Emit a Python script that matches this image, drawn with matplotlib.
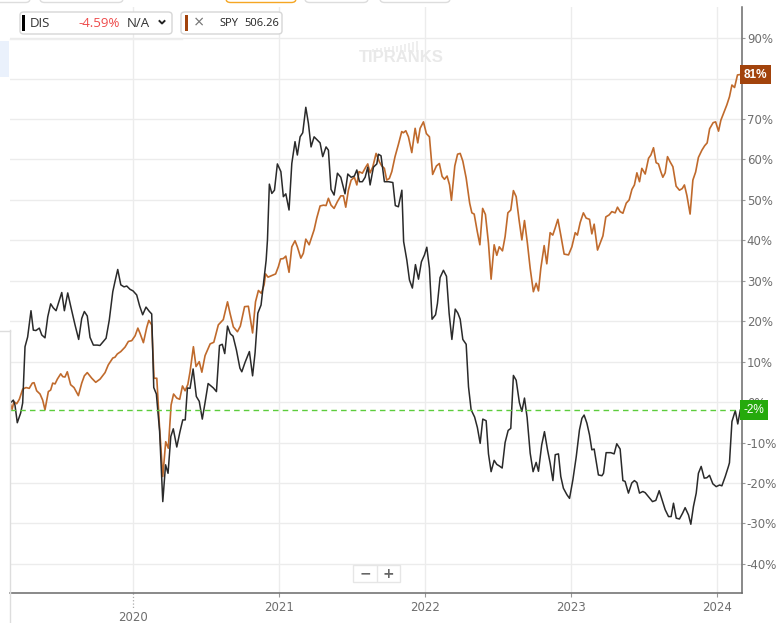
import matplotlib
matplotlib.use('Agg')
import matplotlib.pyplot as plt
from matplotlib.patches import FancyBboxPatch, Rectangle
from matplotlib.lines import Line2D

# ---------------- data (time in fractional years, values in % return) ----------------
dis_t = [2019.158, 2019.176, 2019.187, 2019.203, 2019.226, 2019.240, 2019.256, 2019.274, 2019.297, 2019.313,
         2019.331, 2019.354, 2019.371, 2019.393, 2019.412, 2019.432, 2019.450, 2019.469, 2019.508, 2019.526,
         2019.549, 2019.572, 2019.599, 2019.624, 2019.645, 2019.663, 2019.683, 2019.702, 2019.725, 2019.752,
         2019.770, 2019.793, 2019.812, 2019.834, 2019.858, 2019.873, 2019.892, 2019.913, 2019.935, 2019.954,
         2019.976, 2019.997, 2020.022, 2020.042, 2020.063, 2020.086, 2020.107, 2020.125, 2020.139, 2020.157,
         2020.179, 2020.201, 2020.220, 2020.237, 2020.256, 2020.273, 2020.297, 2020.319, 2020.338, 2020.355,
         2020.370, 2020.388, 2020.409, 2020.431, 2020.451, 2020.472, 2020.491, 2020.512, 2020.548, 2020.569,
         2020.590, 2020.609, 2020.626, 2020.645, 2020.664, 2020.683, 2020.706, 2020.730, 2020.743, 2020.765,
         2020.795, 2020.817, 2020.834, 2020.853, 2020.875, 2020.891, 2020.910, 2020.919, 2020.932, 2020.949,
         2020.967, 2020.987, 2021.011, 2021.028, 2021.045, 2021.067, 2021.086, 2021.108, 2021.124, 2021.143,
         2021.161, 2021.182, 2021.200, 2021.218, 2021.239, 2021.261, 2021.280, 2021.298, 2021.321, 2021.337,
         2021.355, 2021.376, 2021.399, 2021.422, 2021.451, 2021.470, 2021.493, 2021.515, 2021.532, 2021.550,
         2021.570, 2021.589, 2021.607, 2021.623, 2021.646, 2021.669, 2021.680, 2021.698, 2021.721, 2021.749,
         2021.779, 2021.796, 2021.817, 2021.841, 2021.853, 2021.875, 2021.893, 2021.913, 2021.934, 2021.955,
         2021.975, 2021.996, 2022.012, 2022.030, 2022.048, 2022.072, 2022.085, 2022.103, 2022.126, 2022.147,
         2022.165, 2022.184, 2022.207, 2022.225, 2022.241, 2022.259, 2022.282, 2022.298, 2022.316, 2022.340,
         2022.359, 2022.378, 2022.396, 2022.419, 2022.435, 2022.453, 2022.474, 2022.492, 2022.510, 2022.529,
         2022.549, 2022.570, 2022.588, 2022.606, 2022.625, 2022.647, 2022.664, 2022.682, 2022.700, 2022.721,
         2022.741, 2022.762, 2022.778, 2022.800, 2022.819, 2022.840, 2022.858, 2022.877, 2022.893, 2022.915,
         2022.931, 2022.949, 2022.973, 2022.991, 2023.014, 2023.037, 2023.059, 2023.076, 2023.091, 2023.110,
         2023.128, 2023.144, 2023.160, 2023.189, 2023.213, 2023.224, 2023.242, 2023.274, 2023.297, 2023.315,
         2023.338, 2023.357, 2023.372, 2023.395, 2023.418, 2023.436, 2023.453, 2023.471, 2023.494, 2023.510,
         2023.533, 2023.560, 2023.583, 2023.606, 2023.624, 2023.647, 2023.670, 2023.688, 2023.704, 2023.723,
         2023.745, 2023.766, 2023.784, 2023.807, 2023.823, 2023.841, 2023.860, 2023.875, 2023.894, 2023.915,
         2023.933, 2023.951, 2023.974, 2023.997, 2024.020, 2024.036, 2024.059, 2024.081, 2024.088, 2024.105,
         2024.128, 2024.145, 2024.162]
dis_v = [-0.1, 0.5, -0.7, -5.1, -2.7, -0.2, 13.7, 16.1, 22.6, 17.8,
         17.7, 18.3, 16.6, 15.9, 21.1, 24.3, 23.3, 22.6, 27.1, 22.6,
         27.0, 23.3, 19.1, 15.5, 20.7, 22.4, 21.3, 16.0, 14.1, 14.1,
         14.0, 15.0, 15.8, 20.3, 27.3, 29.8, 32.8, 29.0, 28.5, 28.7,
         27.9, 27.5, 26.5, 23.8, 21.6, 23.5, 22.5, 21.8, 3.6, 2.0,
         -7.1, -24.6, -15.5, -17.6, -8.5, -6.6, -11.1, -7.3, -4.4, -4.4,
         3.5, 3.4, 8.2, 1.4, 0.2, -4.2, -0.1, 4.6, 3.5, 2.6,
         14.0, 14.3, 12.0, 18.8, 16.9, 16.3, 12.9, 8.4, 7.5, 9.8,
         12.5, 6.5, 12.2, 22.0, 24.0, 29.0, 35.1, 40.1, 53.9, 51.6,
         52.4, 58.9, 57.0, 50.8, 51.5, 47.5, 59.0, 64.4, 61.1, 65.6,
         66.6, 72.9, 68.9, 63.1, 65.6, 64.8, 64.1, 60.7, 63.1, 62.3,
         52.6, 51.2, 56.6, 55.6, 51.5, 56.4, 55.6, 55.9, 57.4, 54.5,
         54.5, 55.6, 58.1, 53.7, 58.1, 58.9, 61.3, 60.9, 54.5, 54.5,
         54.3, 48.6, 48.3, 52.4, 39.7, 35.1, 30.2, 28.2, 34.0, 30.4,
         34.7, 36.4, 38.3, 33.1, 20.5, 21.6, 24.4, 30.8, 32.6, 31.1,
         22.0, 15.5, 23.0, 22.0, 20.5, 15.5, 14.3, 3.8, -1.9, -3.7,
         -6.3, -10.2, -4.2, -4.6, -12.8, -17.2, -14.4, -15.4, -15.8, -16.3,
         -10.0, -7.0, -6.5, 6.6, 5.4, -0.1, -2.3, 1.0, -3.8, -12.6,
         -17.2, -14.9, -17.1, -10.6, -7.3, -11.8, -15.1, -19.4, -13.0, -12.8,
         -18.4, -21.3, -22.9, -23.8, -19.2, -13.5, -6.9, -4.0, -3.2, -5.2,
         -8.1, -11.8, -11.6, -18.0, -18.2, -17.6, -12.5, -12.5, -12.8, -10.3,
         -11.6, -19.4, -19.6, -22.5, -20.0, -19.4, -19.9, -22.5, -22.1, -22.4,
         -23.4, -24.6, -24.3, -21.9, -24.0, -26.6, -28.3, -28.3, -25.0, -28.7,
         -28.9, -27.5, -26.1, -27.9, -30.2, -25.8, -22.5, -17.6, -15.9, -18.8,
         -18.7, -18.1, -20.2, -20.9, -20.5, -20.7, -18.4, -15.9, -15.0, -4.8,
         -2.1, -5.4, -2.0]

spy_t = [2019.158, 2019.167, 2019.180, 2019.199, 2019.217, 2019.240, 2019.263, 2019.285, 2019.306, 2019.318,
         2019.336, 2019.359, 2019.377, 2019.393, 2019.416, 2019.432, 2019.446, 2019.462, 2019.478, 2019.501,
         2019.515, 2019.530, 2019.546, 2019.569, 2019.592, 2019.622, 2019.645, 2019.663, 2019.683, 2019.714,
         2019.741, 2019.771, 2019.805, 2019.827, 2019.858, 2019.873, 2019.889, 2019.913, 2019.942, 2019.965,
         2019.988, 2020.011, 2020.030, 2020.045, 2020.068, 2020.091, 2020.105, 2020.125, 2020.141, 2020.160,
         2020.177, 2020.201, 2020.221, 2020.239, 2020.258, 2020.275, 2020.297, 2020.317, 2020.336, 2020.354,
         2020.373, 2020.388, 2020.411, 2020.429, 2020.451, 2020.469, 2020.491, 2020.526, 2020.551, 2020.582,
         2020.616, 2020.645, 2020.662, 2020.685, 2020.713, 2020.733, 2020.762, 2020.788, 2020.817, 2020.837,
         2020.857, 2020.877, 2020.896, 2020.906, 2020.923, 2020.949, 2020.975, 2020.994, 2021.009, 2021.028,
         2021.045, 2021.067, 2021.086, 2021.108, 2021.124, 2021.148, 2021.165, 2021.182, 2021.205, 2021.223,
         2021.239, 2021.257, 2021.280, 2021.303, 2021.321, 2021.337, 2021.355, 2021.376, 2021.399, 2021.422,
         2021.440, 2021.456, 2021.474, 2021.493, 2021.515, 2021.532, 2021.547, 2021.570, 2021.593, 2021.607,
         2021.623, 2021.641, 2021.664, 2021.687, 2021.703, 2021.721, 2021.737, 2021.755, 2021.772, 2021.794,
         2021.817, 2021.840, 2021.851, 2021.868, 2021.886, 2021.909, 2021.932, 2021.950, 2021.966, 2021.989,
         2022.009, 2022.030, 2022.052, 2022.078, 2022.098, 2022.117, 2022.133, 2022.151, 2022.168, 2022.181,
         2022.204, 2022.223, 2022.241, 2022.259, 2022.282, 2022.306, 2022.321, 2022.337, 2022.357, 2022.376,
         2022.395, 2022.414, 2022.435, 2022.453, 2022.474, 2022.492, 2022.509, 2022.531, 2022.549, 2022.568,
         2022.588, 2022.606, 2022.625, 2022.645, 2022.664, 2022.682, 2022.702, 2022.721, 2022.743, 2022.762,
         2022.778, 2022.794, 2022.817, 2022.835, 2022.858, 2022.876, 2022.892, 2022.911, 2022.931, 2022.954,
         2022.984, 2023.007, 2023.030, 2023.045, 2023.064, 2023.086, 2023.105, 2023.128, 2023.144, 2023.160,
         2023.183, 2023.201, 2023.220, 2023.240, 2023.263, 2023.281, 2023.304, 2023.320, 2023.338, 2023.357,
         2023.380, 2023.400, 2023.419, 2023.436, 2023.453, 2023.471, 2023.487, 2023.510, 2023.533, 2023.549,
         2023.567, 2023.585, 2023.601, 2023.617, 2023.631, 2023.647, 2023.663, 2023.681, 2023.700, 2023.722,
         2023.745, 2023.764, 2023.779, 2023.796, 2023.818, 2023.837, 2023.856, 2023.875, 2023.899, 2023.918,
         2023.935, 2023.952, 2023.976, 2023.993, 2024.013, 2024.029, 2024.052, 2024.070, 2024.088, 2024.105,
         2024.123, 2024.143, 2024.162]
spy_v = [-0.7, -1.8, 0.1, -0.4, 0.7, 3.2, 3.6, 3.4, 4.7, 4.8,
         2.8, 2.0, 0.5, -1.9, 2.6, 3.0, 4.7, 4.5, 5.7, 7.0,
         6.3, 6.2, 7.5, 4.3, 3.6, 1.6, 4.7, 6.5, 7.3, 5.9,
         4.9, 5.7, 7.3, 9.2, 10.9, 11.1, 11.9, 12.5, 13.6, 15.0,
         15.2, 16.4, 18.3, 17.0, 14.7, 18.5, 20.2, 19.1, 5.9, 5.9,
         -5.2, -18.4, -9.8, -11.4, -0.7, 2.0, 1.0, 0.7, 4.0, 2.8,
         4.4, 7.5, 13.7, 8.8, 10.0, 7.4, 11.5, 14.4, 14.8, 19.1,
         20.4, 24.8, 22.0, 18.6, 17.4, 18.8, 23.6, 23.7, 17.1, 24.8,
         27.6, 26.9, 29.0, 31.7, 30.9, 31.3, 31.7, 33.5, 35.4, 35.5,
         36.1, 32.1, 38.4, 39.9, 38.4, 35.6, 36.8, 40.3, 38.9, 40.9,
         42.6, 45.5, 48.5, 48.7, 48.6, 50.4, 48.7, 47.9, 49.6, 51.0,
         51.0, 48.2, 52.4, 54.9, 55.6, 53.7, 57.0, 56.6, 58.1, 58.9,
         56.7, 58.1, 61.5, 59.4, 58.4, 57.8, 54.9, 55.3, 57.0, 60.7,
         63.7, 66.9, 66.6, 67.1, 65.6, 61.7, 67.7, 64.1, 67.7, 69.3,
         66.4, 65.6, 56.3, 58.4, 59.0, 55.8, 55.1, 55.9, 53.7, 49.9,
         58.4, 61.3, 61.5, 59.6, 55.4, 49.2, 46.8, 46.5, 42.4, 38.9,
         47.9, 46.4, 39.3, 30.4, 38.9, 36.3, 38.4, 37.4, 40.9, 46.8,
         47.5, 52.3, 50.8, 45.0, 40.1, 44.9, 39.3, 33.1, 27.3, 29.4,
         27.5, 33.1, 38.7, 34.2, 41.9, 41.3, 43.0, 45.2, 41.3, 36.6,
         36.4, 38.4, 41.9, 41.3, 44.4, 46.8, 45.5, 45.2, 41.6, 44.0,
         37.6, 39.3, 41.1, 45.8, 46.3, 47.1, 46.8, 48.2, 47.1, 46.7,
         49.2, 50.0, 52.6, 53.7, 56.7, 54.5, 57.8, 56.4, 60.3, 61.1,
         62.9, 59.2, 58.9, 57.0, 55.6, 56.7, 60.7, 59.4, 58.2, 53.4,
         52.4, 52.8, 53.7, 51.1, 46.5, 54.9, 56.9, 60.5, 62.3, 63.4,
         64.1, 67.6, 69.1, 69.3, 67.0, 69.7, 71.8, 73.5, 75.5, 78.4,
         77.8, 80.9, 81.0]

y_ticks = [-40, -30, -20, -10, 0, 10, 20, 30, 40, 50, 60, 70, 80, 90]
x_ticks = [2021, 2022, 2023, 2024]
first_year = 2020
dis_name, dis_change, dis_extra = "DIS", "-4.59%", "N/A"
spy_name, spy_price = "SPY", "506.26"
dis_last_label = "-2%"
spy_last_label = "81%"

# ---------------- styling ----------------
W, H = 778, 623
DIS_C = '#2a2a2a'
SPY_C = '#c06a2c'
GRID_C = '#ececec'
TXT_C = '#6e6e6e'
NARROW = ['Liberation Sans Narrow', 'DejaVu Sans']
UI = ['Open Sans', 'DejaVu Sans']

fig = plt.figure(figsize=(W / 100, H / 100), dpi=100)
fig.patch.set_facecolor('white')


def fx(px):
    return px / W


def fy(py):
    return 1 - py / H


ax_l, ax_r, ax_t, ax_b = 10, 742, 7, 593
ax = fig.add_axes([fx(ax_l), fy(ax_b), (ax_r - ax_l) / W, (ax_b - ax_t) / H])
ax.set_facecolor('white')
ax.set_xlim(2019.153, 2024.174)
ax.set_ylim(-47.2, 97.7)

# grid
for v in y_ticks:
    ax.axhline(v, color=GRID_C, lw=1, zorder=0)
for v in [first_year] + x_ticks:
    ax.axvline(v, color=GRID_C, lw=1, zorder=0)

# lines
ax.plot(spy_t, spy_v, color=SPY_C, lw=1.2, zorder=3, solid_joinstyle='round')
ax.plot(dis_t, dis_v, color=DIS_C, lw=1.1, zorder=4, solid_joinstyle='round')
ax.axhline(dis_v[-1], color='#5ccc3c', lw=1, ls=(0, (4, 3)), zorder=5)

# spines
for s in ['top', 'left']:
    ax.spines[s].set_visible(False)
ax.spines['right'].set_color('#6a6a6a')
ax.spines['bottom'].set_color('#6a6a6a')
ax.spines['right'].set_linewidth(1.1)
ax.spines['bottom'].set_linewidth(1.1)

# y ticks on the right (the 80% label sits under the 81% marker in the original)
ax.yaxis.tick_right()
ax.set_yticks(y_ticks)
ax.set_yticklabels(["" if v == 80 else f"{v}%" for v in y_ticks],
                   fontfamily=NARROW, fontsize=8.5, color=TXT_C)
ax.tick_params(axis='y', length=2.5, width=0.8, color='#999999', pad=1)

# x ticks
ax.set_xticks(x_ticks)
ax.set_xticklabels([str(v) for v in x_ticks], fontfamily=NARROW, fontsize=8.5, color=TXT_C)
ax.tick_params(axis='x', length=3, width=0.8, color='#999999', pad=3)
xtr = ax.get_xaxis_transform()
ax.plot([first_year, first_year], [0, -0.028], transform=xtr, color='#aaaaaa', lw=0.9, ls=':', clip_on=False)
ax.text(first_year, -0.041, str(first_year), transform=xtr, ha='center', va='center',
        fontfamily=NARROW, fontsize=8.5, color=TXT_C, clip_on=False)

# last value labels on right axis
ytr = ax.get_yaxis_transform()
ax.text(1.002, spy_v[-1], spy_last_label, transform=ytr, ha='left', va='center', color='white',
        fontsize=8.5, fontweight='bold', fontfamily=['Liberation Sans', 'DejaVu Sans'], zorder=20, clip_on=False,
        bbox=dict(boxstyle='square,pad=0.32', fc='#a2430c', ec='none'))
ax.text(1.002, dis_v[-1], dis_last_label, transform=ytr, ha='left', va='center', color='white',
        fontsize=8.5, fontfamily=['Liberation Sans', 'DejaVu Sans'], zorder=20, clip_on=False,
        bbox=dict(boxstyle='square,pad=0.32', fc='#25aa0c', ec='none'))

# watermark
fig.text(fx(401), fy(58), "TIPRANKS", ha='center', va='center', fontsize=12, fontweight='bold',
         color='#e9e9e9', fontfamily=['Liberation Sans', 'DejaVu Sans'])
for i, h in enumerate([3, 4, 4, 5, 5, 6, 6, 7, 8, 9, 10, 11]):
    fig.add_artist(Rectangle((fx(372 + i * 4), fy(52)), 2.2 / W, h / H, transform=fig.transFigure,
                             fc='#efefef', ec='none'))

# left edge and top UI remnants
fig.add_artist(Line2D([fx(9.5), fx(9.5)], [fy(330), fy(623)], transform=fig.transFigure, color='#dddddd', lw=1))
fig.add_artist(Line2D([fx(0), fx(9.5)], [fy(331), fy(331)], transform=fig.transFigure, color='#dddddd', lw=1))
fig.add_artist(Rectangle((0, fy(77)), fx(9), 36 / H, transform=fig.transFigure, fc='#eaf1fc', ec='none'))
fig.add_artist(Line2D([fx(10), fx(182)], [fy(39), fy(39)], transform=fig.transFigure, color='#eeeeee', lw=1))
for (x0, x1, ec) in [(-10, 30, '#dddddd'), (40, 123, '#dddddd'), (226, 296, '#f5a623'),
                     (305, 368, '#dddddd'), (380, 450, '#dddddd')]:
    fig.add_artist(FancyBboxPatch((fx(x0), fy(2.5)), (x1 - x0) / W, 14 / H, transform=fig.transFigure,
                                  boxstyle='round,pad=0,rounding_size=0.006', fc='white', ec=ec, lw=1))

# legend boxes
fig.add_artist(FancyBboxPatch((fx(20), fy(34)), 152 / W, 22 / H, transform=fig.transFigure,
                              boxstyle='round,pad=0,rounding_size=0.005', fc='white', ec='#d6d6d6', lw=1))
fig.add_artist(Rectangle((fx(22), fy(31)), 3 / W, 16 / H, transform=fig.transFigure, fc='black', ec='none'))
fig.text(fx(30), fy(23.5), dis_name, ha='left', va='center', fontsize=9.5, color='#333333', fontfamily=UI)
fig.text(fx(120), fy(23.5), dis_change, ha='right', va='center', fontsize=9.5, color='#ee4b4b', fontfamily=UI)
fig.text(fx(127), fy(23.5), dis_extra, ha='left', va='center', fontsize=9.5, color='#333333', fontfamily=UI)
fig.add_artist(Line2D([fx(159.5), fx(162), fx(164.5)], [fy(21), fy(23.5), fy(21)], transform=fig.transFigure,
                      color='#222222', lw=1.4))

fig.add_artist(FancyBboxPatch((fx(181), fy(34)), 101 / W, 22 / H, transform=fig.transFigure,
                              boxstyle='round,pad=0,rounding_size=0.005', fc='white', ec='#d6d6d6', lw=1))
fig.add_artist(Rectangle((fx(185), fy(31)), 3 / W, 16 / H, transform=fig.transFigure, fc='#a2430c', ec='none'))
fig.text(fx(199), fy(23.5), "×", ha='center', va='center', fontsize=13, color='#777777', fontfamily=UI)
fig.text(fx(219), fy(23), spy_name, ha='left', va='center', fontsize=8, color='#222222', fontfamily=UI)
fig.text(fx(279), fy(23), spy_price, ha='right', va='center', fontsize=8, color='#222222', fontfamily=UI)

# zoom buttons
fig.add_artist(Rectangle((fx(353), fy(582)), 47 / W, 17 / H, transform=fig.transFigure,
                         fc='white', ec='#e6e6e6', lw=1))
fig.add_artist(Line2D([fx(377), fx(377)], [fy(581), fy(566)], transform=fig.transFigure, color='#e6e6e6', lw=1))
fig.text(fx(365), fy(573.5), "−", ha='center', va='center', fontsize=10, fontweight='bold', color='#666666')
fig.text(fx(388), fy(573.5), "+", ha='center', va='center', fontsize=10, fontweight='bold', color='#666666')

fig.savefig('out.png', dpi=100, facecolor='white')
